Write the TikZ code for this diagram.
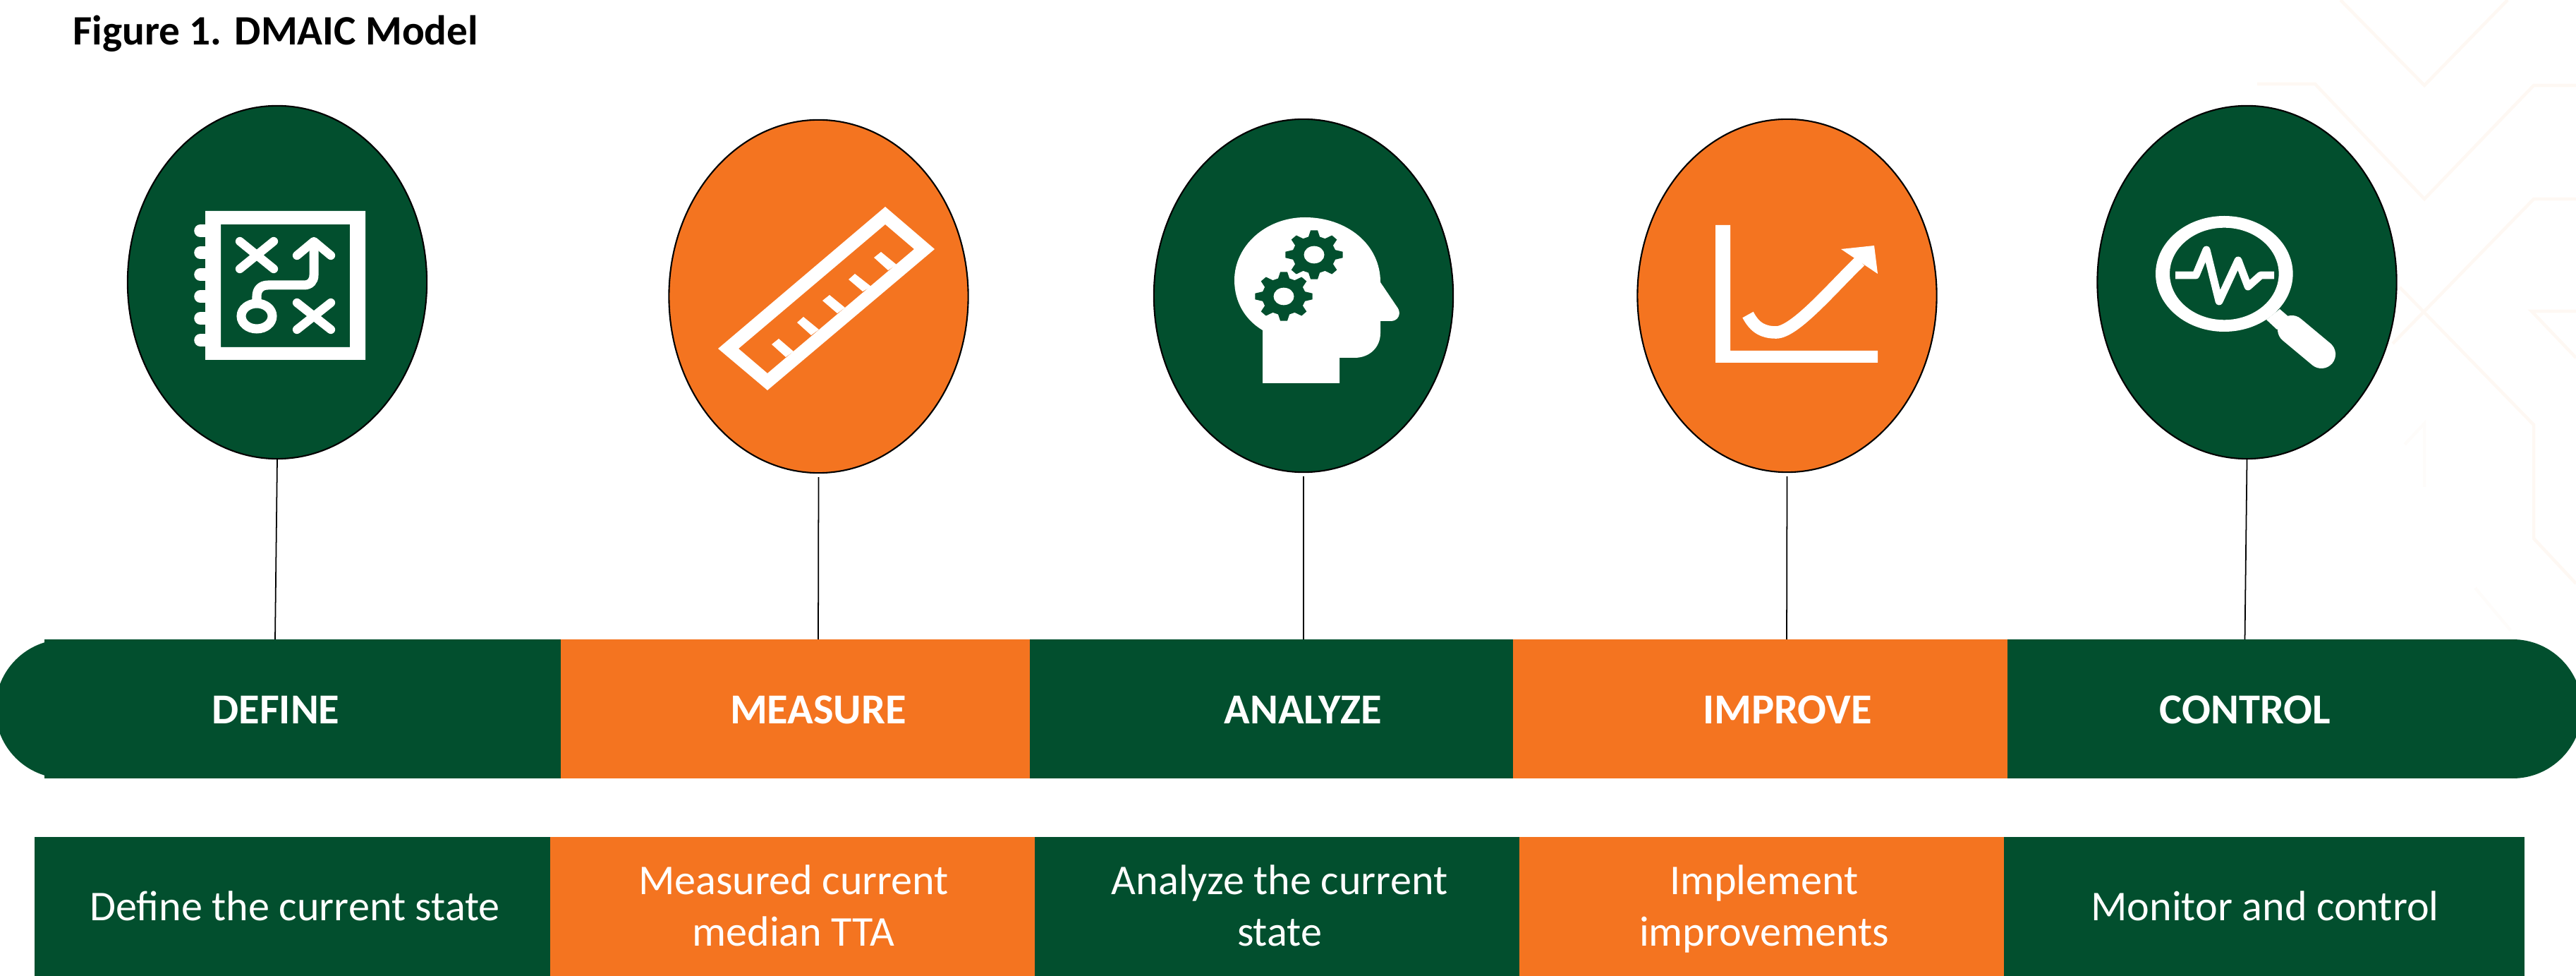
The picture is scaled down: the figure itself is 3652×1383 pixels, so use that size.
\documentclass[tikz,border=0pt]{standalone}
\usepackage{fontspec}
\setmainfont{Carlito}
\usetikzlibrary{shapes.geometric}

\definecolor{dmgreen}{HTML}{024F2E}
\definecolor{dmorange}{HTML}{F47420}
\definecolor{dmchevron}{HTML}{FEF8F3}
\definecolor{dmchevronb}{HTML}{FEFCFA}

\tikzset{
    stagecirc/.style={ellipse, draw=black, line width=0.6pt, inner sep=0pt,
        minimum width=4.24cm, minimum height=5cm},
    barseg/.style={rectangle, inner sep=0pt, minimum height=1.97cm},
    lowbox/.style={rectangle, inner sep=0pt, minimum height=1.97cm},
    stem/.style={draw=black, line width=0.5pt},
    stagename/.style={text=white, inner sep=0pt, font=\fontsize{17.2pt}{20pt}\selectfont\bfseries},
    stagetext/.style={text=white, inner sep=0pt, align=center, font=\fontsize{17.1pt}{20.6pt}\selectfont},
    iconline/.style={draw=white, line cap=round, line join=round, line width=3.5pt},
    chevron/.style={draw=dmchevron, line width=1.3pt},
}

% gear with a white hole, for the head icon
\newcommand{\gearicon}[2]{
    \begin{scope}[shift={(#1,#2)}, yscale=0.85]
        \fill[dmgreen] (-7:41) \foreach \a in {0,45,...,315} { -- (\a-7:41) -- (\a+7:41) -- (\a+15:31) -- (\a+30:31) } -- cycle;
        \fill[white] (0,0) circle (14.5);
    \end{scope}
}

\begin{document}
\begin{tikzpicture}[x=0.01cm, y=-0.01cm]
    \path[use as bounding box, clip] (0,0) rectangle (3652,1383);

    % faint background lines
    \draw[chevron] (3318,0) -- (3437,121) -- (3555,0);
    \draw[chevron] (3200,119) -- (3282,119) -- (3437,282) -- (3592,121) -- (3652,121);
    \draw[chevron] (3652,282) -- (3592,282) -- (3392,487);
    \draw[chevron] (3402,407) -- (3592,602) -- (3592,763) -- (3652,827);
    \draw[chevron] (3652,441) -- (3589,441) -- (3652,507);
    \draw[chevron, draw=dmchevronb] (3409,630) -- (3437,600) -- (3437,690);
    \draw[chevron, draw=dmchevronb] (3509,833) -- (3559,893);

    \node[anchor=base west, inner sep=0pt, font=\fontsize{16.85pt}{20pt}\selectfont\bfseries] (title) at (103,64) {Figure 1. DMAIC Model};

    % circles
    \node[stagecirc, fill=dmgreen] (define) at (393,400) {};
    \node[stagecirc, fill=dmorange] (measure) at (1160.5,420) {};
    \node[stagecirc, fill=dmgreen] (analyze) at (1848,419) {};
    \node[stagecirc, fill=dmorange] (improve) at (2533.5,419) {};
    \node[stagecirc, fill=dmgreen] (control) at (3185.5,400) {};

    % the bar
    \fill[dmgreen] (92,1004.5) circle (98.5);
    \fill[dmgreen] (3562,1004.5) circle (98.5);
    \node[barseg, fill=dmgreen, minimum width=7.32cm] (definebar) at (429,1004.5) {};
    \node[barseg, fill=dmorange, minimum width=6.66cm] (measurebar) at (1128,1004.5) {};
    \node[barseg, fill=dmgreen, minimum width=6.85cm] (analyzebar) at (1803,1004.5) {};
    \node[barseg, fill=dmorange, minimum width=7.01cm] (improvebar) at (2495.5,1004.5) {};
    \node[barseg, fill=dmgreen, minimum width=7.16cm] (controlbar) at (3204,1004.5) {};

    \coordinate (definefoot) at (390,906);
    \coordinate (measurefoot) at (1160,906);
    \coordinate (analyzefoot) at (1848,906);
    \coordinate (improvefoot) at (2533,906);
    \coordinate (controlfoot) at (3182.5,906);

    \draw[stem] (define.south) -- (definefoot);
    \draw[stem, shorten <=0.5mm] (measure.south) -- (measurefoot);
    \draw[stem, shorten <=0.5mm] (analyze.south) -- (analyzefoot);
    \draw[stem, shorten <=0.5mm] (improve.south) -- (improvefoot);
    \draw[stem] (control.south) -- (controlfoot);

    \node[stagename, anchor=base] (definelabel) at (391,1025) {DEFINE};
    \node[stagename, anchor=base] (measurelabel) at (1160,1025) {MEASURE};
    \node[stagename, anchor=base] (analyzelabel) at (1847,1025) {ANALYZE};
    \node[stagename, anchor=base] (improvelabel) at (2534,1025) {IMPROVE};
    \node[stagename, anchor=base] (controllabel) at (3183,1025) {CONTROL};

    % lower boxes
    \node[lowbox, fill=dmgreen, minimum width=7.31cm] (definebox) at (414.5,1284.5) {};
    \node[lowbox, fill=dmorange, minimum width=6.87cm] (measurebox) at (1123.5,1284.5) {};
    \node[lowbox, fill=dmgreen, minimum width=6.87cm] (analyzebox) at (1810.5,1284.5) {};
    \node[lowbox, fill=dmorange, minimum width=6.87cm] (improvebox) at (2497.5,1284.5) {};
    \node[lowbox, fill=dmgreen, minimum width=7.38cm] (controlbox) at (3210,1284.5) {};

    \node[stagetext, anchor=base] (definetext) at (418,1304) {Define the current state};
    \node[stagetext, anchor=base] (measuretext) at (1125,1340) {Measured current\\median TTA};
    \node[stagetext, anchor=base] (analyzetext) at (1814,1340) {Analyze the current\\state};
    \node[stagetext, anchor=base] (improvetext) at (2501,1340) {Implement\\improvements};
    \node[stagetext, anchor=base] (controltext) at (3211,1304) {Monitor and control};

    % map icon
    \fill[white, even odd rule] (291,299) rectangle (518,510) (313,318) rectangle (496,492);
    \draw[white, line width=5pt, line cap=round] (284,327) -- (291,327);
    \draw[white, line width=5pt, line cap=round] (284,358) -- (291,358);
    \draw[white, line width=5pt, line cap=round] (284,389) -- (291,389);
    \draw[white, line width=5pt, line cap=round] (284,420) -- (291,420);
    \draw[white, line width=5pt, line cap=round] (284,451) -- (291,451);
    \draw[white, line width=5pt, line cap=round] (284,482) -- (291,482);
    \draw[iconline] (340,342) -- (388,381) (340,381) -- (388,342);
    \draw[iconline] (421,429) -- (469,467) (421,467) -- (469,429);
    \draw[iconline] (421,362) -- (445,342) -- (469,362);
    \draw[white, line width=3.7pt] (364,448) ellipse (22 and 18);
    \draw[white, line width=3.7pt] (364,430) -- (364,420) .. controls (364,410) and (370,404) .. (380,404) -- (431,404) .. controls (440,404) and (445,398) .. (445,390) -- (445,345);

    % ruler icon
    \fill[white, even odd rule] (1255,293) -- (1325,353) -- (1088,553) -- (1018,494) -- cycle
        (1255,318) -- (1296,353) -- (1088,529) -- (1047,494) -- cycle;
    \fill[white] (1271,375) -- (1249,357) -- (1239,365) -- (1259,383) -- cycle;
    \fill[white] (1235,406) -- (1212,388) -- (1203,396) -- (1223,413) -- cycle;
    \fill[white] (1198,436) -- (1176,418) -- (1166,426) -- (1187,444) -- cycle;
    \fill[white] (1161,467) -- (1139,449) -- (1130,457) -- (1150,475) -- cycle;
    \fill[white] (1125,498) -- (1104,480) -- (1094,488) -- (1114,506) -- cycle;

    % head icon
    \fill[white] (1790,543) -- (1899,543) -- (1899,507) -- (1920,507) .. controls (1942,507) and (1957,492) .. (1957,472)
        -- (1957,455) -- (1972,455) .. controls (1981,455) and (1987,446) .. (1982,437) -- (1957,400)
        .. controls (1957,345) and (1908,308) .. (1850,308) .. controls (1795,308) and (1750,348) .. (1750,397)
        .. controls (1750,428) and (1765,453) .. (1790,468) -- cycle;
    \gearicon{1863}{361}
    \gearicon{1820}{420}

    % curve icon
    \fill[white] (2432,319) -- (2453,319) -- (2453,497) -- (2662,497) -- (2662,514) -- (2432,514) -- cycle;
    \draw[white, line width=5pt] (2478,446) .. controls (2488,465) and (2500,471) .. (2518,471) .. controls (2545,471) and (2600,405) .. (2637,370);
    \fill[white] (2610,353) -- (2657,348) -- (2662,388) -- cycle;

    % magnifier icon
    \fill[white, even odd rule] (3153.3,388) ellipse (97.3 and 82) (3153.3,388) ellipse (77.3 and 65.3);
    \fill[white] (3232,438) -- (3247,451) -- (3228,467) -- (3213,453) -- cycle;
    \draw[white, line width=11.4pt, line cap=round] (3249,467) -- (3291,502);
    \draw[white, line width=3.1pt, line join=round] (3084,390) -- (3113,390) -- (3128,354) -- (3146,427) -- (3173,369) -- (3187,406) -- (3205,390) -- (3224,390);
\end{tikzpicture}
\end{document}
